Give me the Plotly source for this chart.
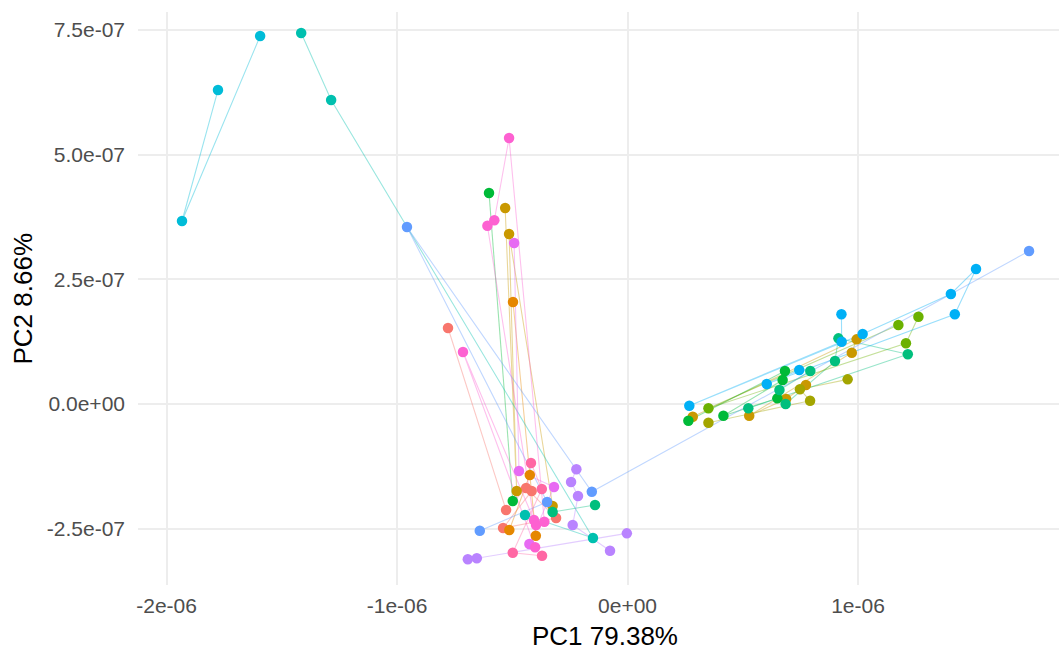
import plotly.graph_objects as go

# ---------------- data (PC1, PC2 scores per group, path order) ----------------
S01_PC1 = [-7.79e-07, -5.27e-07, -4.40e-07, -3.10e-07, -5.40e-07, -4.16e-07]
S01_PC2 = [1.524e-07, -2.126e-07, -1.684e-07, -2.286e-07, -2.486e-07, -1.745e-07]

S02_PC1 = [-4.97e-07, -3.98e-07, -4.24e-07, -5.13e-07]
S02_PC2 = [2.045e-07, -2.641e-07, -1.424e-07, -2.527e-07]

S03A_PC1 = [-5.31e-07, -4.81e-07, -5.14e-07, -3.25e-07]
S03A_PC2 = [3.930e-07, -1.745e-07, 3.409e-07, -2.045e-07]
S03B_PC1 = [2.83e-07, 9.94e-07, 9.73e-07, 5.28e-07, 6.88e-07, 7.74e-07]
S03B_PC2 = [-0.255e-07, 1.297e-07, 1.029e-07, -0.235e-07, 0.100e-07, 0.381e-07]

S04_PC1 = [3.51e-07, 7.92e-07, 7.48e-07, 9.55e-07]
S04_PC2 = [-0.375e-07, 0.066e-07, 0.295e-07, 0.495e-07]

S05_PC1 = [1.175e-06, 3.51e-07, 1.208e-06, 1.262e-06]
S05_PC2 = [1.584e-07, -0.086e-07, 1.217e-07, 1.751e-07]

S06A_PC1 = [-6.01e-07, -4.98e-07]
S06A_PC2 = [4.231e-07, -1.945e-07]
S06B_PC1 = [2.64e-07, 6.83e-07, 6.73e-07, 4.16e-07, 6.50e-07]
S06B_PC2 = [-0.335e-07, 0.662e-07, 0.481e-07, -0.235e-07, 0.114e-07]

S07A_PC1 = [-1.41e-07, -3.25e-07]
S07A_PC2 = [-2.025e-07, -2.166e-07]
S07B_PC1 = [5.24e-07, 1.216e-06, 9.15e-07, 9.00e-07, 6.86e-07, 6.59e-07, 7.93e-07]
S07B_PC2 = [-0.086e-07, 0.997e-07, 1.317e-07, 0.862e-07, 0.000e-07, 0.281e-07, 0.662e-07]

S08_PC1 = [-1.416e-06, -1.286e-06, -1.50e-07, -4.45e-07]
S08_PC2 = [7.439e-07, 6.096e-07, -2.687e-07, -2.226e-07]

S09_PC1 = [-1.777e-06, -1.933e-06, -1.594e-06]
S09_PC2 = [6.296e-07, 3.670e-07, 7.379e-07]

S10_PC1 = [7.45e-07, 6.04e-07, 1.420e-06, 1.512e-06, 1.403e-06, 1.020e-06, 2.68e-07, 9.29e-07, 9.28e-07]
S10_PC2 = [0.682e-07, 0.401e-07, 1.799e-07, 2.707e-07, 2.206e-07, 1.404e-07, -0.034e-07, 1.249e-07, 1.799e-07]

S11_PC1 = [-6.41e-07, -3.49e-07, -9.57e-07, -1.55e-07, 1.742e-06]
S11_PC2 = [-2.541e-07, -1.965e-07, 3.549e-07, -1.759e-07, 3.068e-07]

S12A_PC1 = [-6.93e-07, -6.54e-07, -3.0e-09]
S12A_PC2 = [-3.114e-07, -3.094e-07, -2.593e-07]
S12B_PC1 = [-2.22e-07, -2.45e-07, -2.15e-07, -2.38e-07, -7.6e-08]
S12B_PC2 = [-1.309e-07, -1.564e-07, -1.845e-07, -2.426e-07, -2.942e-07]

S13_PC1 = [-4.92e-07, -4.71e-07, -3.19e-07, -4.26e-07]
S13_PC2 = [3.228e-07, -1.343e-07, -1.664e-07, -2.807e-07]

S14_PC1 = [-4.01e-07, -7.14e-07, -3.97e-07, -4.06e-07, -6.08e-07, -5.78e-07, -5.14e-07, -3.61e-07]
S14_PC2 = [-2.873e-07, 1.043e-07, -2.426e-07, -2.326e-07, 3.575e-07, 3.684e-07, 5.334e-07, -2.360e-07]

S15_PC1 = [-4.19e-07, -3.72e-07, -4.98e-07, -3.71e-07]
S15_PC2 = [-1.183e-07, -1.704e-07, -2.982e-07, -3.042e-07]

X_TICKS = [-2e-06, -1e-06, 0.0, 1e-06]
X_TICK_TEXT = ["-2e-06", "-1e-06", "0e+00", "1e-06"]
Y_TICKS = [-2.5e-07, 0.0, 2.5e-07, 5.0e-07, 7.5e-07]
Y_TICK_TEXT = ["-2.5e-07", "0.0e+00", "2.5e-07", "5.0e-07", "7.5e-07"]

X_TITLE = "PC1 79.38%"
Y_TITLE = "PC2 8.66%"

# ---------------- series table ----------------
series = [
    (S01_PC1, S01_PC2, "#F8766D"),
    (S02_PC1, S02_PC2, "#E58700"),
    (S03A_PC1, S03A_PC2, "#C99800"),
    (S03B_PC1, S03B_PC2, "#C99800"),
    (S04_PC1, S04_PC2, "#A3A500"),
    (S05_PC1, S05_PC2, "#6BB100"),
    (S06A_PC1, S06A_PC2, "#00BA38"),
    (S06B_PC1, S06B_PC2, "#00BA38"),
    (S07A_PC1, S07A_PC2, "#00BF7D"),
    (S07B_PC1, S07B_PC2, "#00BF7D"),
    (S08_PC1, S08_PC2, "#00C0AF"),
    (S09_PC1, S09_PC2, "#00BCD8"),
    (S10_PC1, S10_PC2, "#00B0F6"),
    (S11_PC1, S11_PC2, "#619CFF"),
    (S12A_PC1, S12A_PC2, "#B983FF"),
    (S12B_PC1, S12B_PC2, "#B983FF"),
    (S13_PC1, S13_PC2, "#E76BF3"),
    (S14_PC1, S14_PC2, "#FD61D1"),
    (S15_PC1, S15_PC2, "#FF67A4"),
]


def rgba(hex_color, a):
    h = hex_color.lstrip("#")
    r, g, b = int(h[0:2], 16), int(h[2:4], 16), int(h[4:6], 16)
    return f"rgba({r},{g},{b},{a})"


fig = go.Figure()

# paths first (light), then points on top
for xs, ys, col in series:
    fig.add_trace(go.Scatter(x=xs, y=ys, mode="lines",
                             line=dict(color=rgba(col, 0.4), width=1.1),
                             hoverinfo="skip", showlegend=False))
for xs, ys, col in series:
    fig.add_trace(go.Scatter(x=xs, y=ys, mode="markers",
                             marker=dict(color=col, size=10.5, line=dict(width=0)),
                             showlegend=False))

W, H = 1059, 651
L, R, T, B = 138, 0, 12, 66

FONT = "Liberation Sans, Arial, sans-serif"

fig.update_layout(
    width=W, height=H,
    margin=dict(l=L, r=R, t=T, b=B, pad=0),
    paper_bgcolor="white", plot_bgcolor="white",
    showlegend=False,
    font=dict(family=FONT, color="#4D4D4D"),
    xaxis=dict(range=[-2.124e-06, 1.872e-06], tickvals=X_TICKS, ticktext=X_TICK_TEXT,
               showgrid=True, gridcolor="#EDEDED", gridwidth=1.5, zeroline=False,
               showline=False, ticks="", tickfont=dict(size=21, color="#4D4D4D"),
               ticklabelstandoff=6),
    yaxis=dict(range=[-3.629e-07, 7.861e-07], tickvals=Y_TICKS, ticktext=Y_TICK_TEXT,
               showgrid=True, gridcolor="#EDEDED", gridwidth=1.5, zeroline=False,
               showline=False, ticks="", tickfont=dict(size=21, color="#4D4D4D"),
               ticklabelstandoff=12),
)

plot_w = W - L - R
plot_h = H - T - B
fig.add_annotation(text=X_TITLE, xref="paper", yref="paper",
                   x=(604.5 - L) / plot_w, y=-(636 - (H - B)) / plot_h,
                   xanchor="center", yanchor="middle", showarrow=False,
                   font=dict(family=FONT, size=26, color="black"))
fig.add_annotation(text=Y_TITLE, xref="paper", yref="paper",
                   x=-(L - 22) / plot_w, y=0.5, textangle=-90,
                   xanchor="center", yanchor="middle", showarrow=False,
                   font=dict(family=FONT, size=26, color="black"))

fig.write_html("out.html")
